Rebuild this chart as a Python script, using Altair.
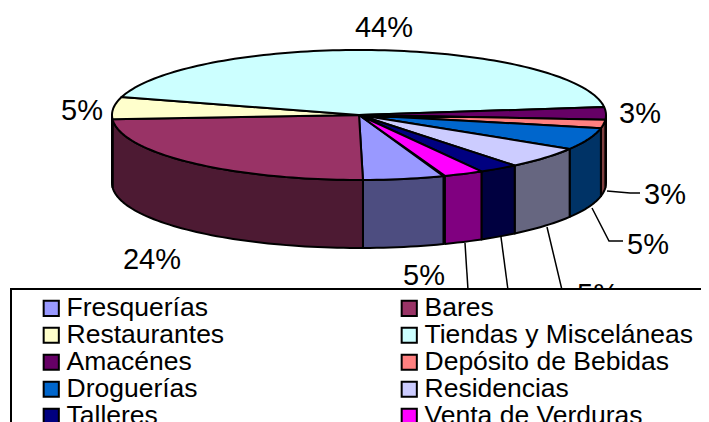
import math
import altair as alt
import pandas as pd

# ---- chart values
categories = ["Fresquerías", "Bares", "Restaurantes", "Tiendas y Misceláneas", "Amacénes",
              "Depósito de Bebidas", "Droguerías", "Residencias", "Talleres", "Venta de Verduras"]
shares = [5.3, 24.2, 5.5, 43.6, 3.1, 2.1, 5.5, 5.4, 2.6, 2.6]
# the labels of Talleres and Venta de Verduras sit hidden behind the legend in the reference
percent_labels = ["5%", "24%", "5%", "44%", "3%", "3%", "5%", "5%"]
top_colors = ["#9999ff", "#993366", "#ffffcc", "#ccffff", "#660066",
              "#ff8080", "#0066cc", "#ccccff", "#000080", "#ff00ff"]
wall_colors = ["#4d4d80", "#4d1a33", "#808066", "#668080", "#330033",
               "#804040", "#003366", "#666680", "#000040", "#800080"]
# the legend reads across its two columns; Vega fills it column by column
legend_order = ["Fresquerías", "Restaurantes", "Amacénes", "Droguerías", "Talleres",
                "Bares", "Tiendas y Misceláneas", "Depósito de Bebidas", "Residencias", "Venta de Verduras"]
legend_colors = [top_colors[categories.index(c)] for c in legend_order]

# ---- layout (page pixels)
CX, CY, RX, RY, DEPTH = 359, 115, 247, 65, 68
START = 160.0
FONT = "Liberation Sans"
label_pos = [(424, 276), (152, 260), (82, 111), (384, 28), (640, 114),
             (665, 195), (648, 245), (598, 295)]
leaders = {
    "Depósito de Bebidas": [(607, 191), (630, 193), (640, 193)],
    "Droguerías": [(592, 208), (609, 241), (623, 241)],
    "Residencias": [(547, 227), (562, 290), (577, 290)],
    "Talleres": [(501, 237), (508, 290)],
    "Venta de Verduras": [(465, 243), (468, 290)],
}


def pt(t, drop=0.0):
    r = math.radians(t)
    return CX + RX * math.sin(r), CY - RY * math.cos(r) + drop


tops, walls = [], []
a = START
for i, (c, s) in enumerate(zip(categories, shares)):
    b = a + s * 3.6
    n = max(2, int((b - a) / 1.5))
    arc = [a + (b - a) * k / n for k in range(n + 1)]
    poly = [(CX, CY)] + [pt(t) for t in arc] + [(CX, CY)]
    for k, (x, y) in enumerate(poly):
        tops.append({"cat": c, "k": k, "x": x, "y": y})
    lo, hi = a % 360, (a % 360) + (b - a)
    vis_lo, vis_hi = max(lo, 90), min(hi, 270)
    if vis_hi > vis_lo:
        m = max(2, int((vis_hi - vis_lo) / 1.5))
        wa = [vis_lo + (vis_hi - vis_lo) * k / m for k in range(m + 1)]
        wp = [pt(t) for t in wa] + [pt(t, DEPTH) for t in reversed(wa)]
        wp.append(wp[0])
        for k, (x, y) in enumerate(wp):
            walls.append({"cat": c, "k": k, "x": x, "y": y, "color": wall_colors[i]})
    a = b

x_scale = alt.Scale(domain=[8, 701], nice=False, zero=False)
y_scale = alt.Scale(domain=[422, 8], nice=False, zero=False)
X = alt.X("x:Q", scale=x_scale, axis=None)
Y = alt.Y("y:Q", scale=y_scale, axis=None)

wall_layer = alt.Chart(pd.DataFrame(walls)).mark_line(
    filled=True, stroke="black", strokeWidth=2, strokeJoin="round"
).encode(x=X, y=Y, order="k:Q", detail="cat:N", fill=alt.Fill("color:N", scale=None))

top_layer = alt.Chart(pd.DataFrame(tops)).mark_line(
    filled=True, stroke="black", strokeWidth=2, strokeJoin="round"
).encode(
    x=X, y=Y, order="k:Q", detail="cat:N",
    fill=alt.Fill(
        "cat:N",
        scale=alt.Scale(domain=legend_order, range=legend_colors),
        sort=legend_order,
        legend=alt.Legend(
            title=None, orient="none", legendX=28, legendY=285, columns=2, zindex=1,
            symbolType="square", symbolSize=230, symbolStrokeColor="black", symbolStrokeWidth=2,
            labelFont=FONT, labelFontSize=26.5, labelColor="black", labelLimit=400,
            labelOffset=2, columnPadding=171, rowPadding=0, padding=2, symbolOpacity=1,
        ),
    ),
)

leader_rows = [
    {"cat": c, "k": k, "x": x, "y": y}
    for c, pts in leaders.items() for k, (x, y) in enumerate(pts)
]
leader_layer = alt.Chart(pd.DataFrame(leader_rows)).mark_line(
    color="black", strokeWidth=1.5
).encode(x=X, y=Y, order="k:Q", detail="cat:N")

label_df = pd.DataFrame({
    "t": percent_labels,
    "x": [p[0] for p in label_pos],
    "y": [p[1] for p in label_pos],
})
label_layer = alt.Chart(label_df).mark_text(
    font=FONT, fontSize=29, color="black", align="center", baseline="middle"
).encode(x=X, y=Y, text="t:N")

box_df = pd.DataFrame({"x": [11], "x2": [740], "y": [289], "y2": [460]})
box_layer = alt.Chart(box_df).mark_rect(fill="white", stroke="black", strokeWidth=2).encode(
    x=X, x2="x2:Q", y=Y, y2="y2:Q"
)

chart = alt.layer(wall_layer, top_layer, leader_layer, label_layer, box_layer).resolve_scale(
    fill="independent"
).properties(
    width=693, height=414, padding=0,
    autosize=alt.AutoSizeParams(type="none"),
).configure_view(stroke=None)

chart.save("out.html", embed_options={"renderer": "svg", "actions": False})
